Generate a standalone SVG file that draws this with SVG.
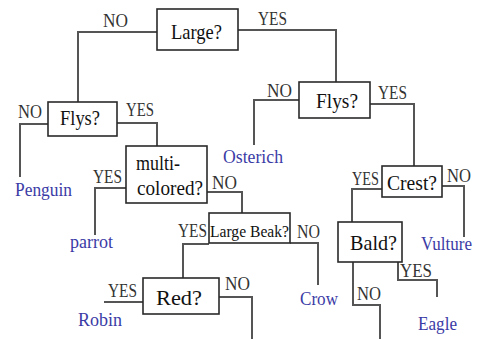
<svg xmlns="http://www.w3.org/2000/svg" width="477" height="339" viewBox="0 0 477 339">
<style>
text{font-family:"Liberation Serif","Times New Roman",Tinos,"DejaVu Serif",serif}
.box rect{fill:#fff;stroke:#2a2a2a;stroke-width:1.6}
.q{font-size:22px;fill:#111}
.qs{font-size:17px;fill:#111}
.lbl{font-size:19px;fill:#333}
.leaf{font-size:19px;fill:#3b3ba6}
#connectors path{fill:none;stroke:#555;stroke-width:2}
</style>
<rect width="477" height="339" fill="#fff"/>
<g id="connectors">
<path d="M157,32 H78 V102"/>
<path d="M238,30 H336 V82"/>
<path d="M48,124 H20 V177"/>
<path d="M117,123 H157 V146"/>
<path d="M126,188 H95 V235"/>
<path d="M207,192 H242 V213"/>
<path d="M209,244 H183 V278"/>
<path d="M290,243 H318 V285"/>
<path d="M143,302 H104"/>
<path d="M219,297 H252 V339"/>
<path d="M299,100 H254 V145"/>
<path d="M370,104 H414 V166"/>
<path d="M382,189 H352 V222"/>
<path d="M442,186 H464 V237"/>
<path d="M398,262 V280 H437 V297"/>
<path d="M353,262 V305 H380 V339"/>
</g>
<g id="labels">
<text class="lbl" x="103" y="27" textLength="25" lengthAdjust="spacingAndGlyphs">NO</text>
<text class="lbl" x="258" y="25" textLength="29" lengthAdjust="spacingAndGlyphs">YES</text>
<text class="lbl" x="18" y="118" textLength="24" lengthAdjust="spacingAndGlyphs">NO</text>
<text class="lbl" x="126" y="116" textLength="28" lengthAdjust="spacingAndGlyphs">YES</text>
<text class="lbl" x="93" y="183" textLength="29" lengthAdjust="spacingAndGlyphs">YES</text>
<text class="lbl" x="212" y="189" textLength="25" lengthAdjust="spacingAndGlyphs">NO</text>
<text class="lbl" x="178" y="237" textLength="29" lengthAdjust="spacingAndGlyphs">YES</text>
<text class="lbl" x="297" y="238" textLength="23" lengthAdjust="spacingAndGlyphs">NO</text>
<text class="lbl" x="108" y="297" textLength="29" lengthAdjust="spacingAndGlyphs">YES</text>
<text class="lbl" x="225" y="290" textLength="25" lengthAdjust="spacingAndGlyphs">NO</text>
<text class="lbl" x="267" y="97" textLength="25" lengthAdjust="spacingAndGlyphs">NO</text>
<text class="lbl" x="378" y="99" textLength="29" lengthAdjust="spacingAndGlyphs">YES</text>
<text class="lbl" x="352" y="185" textLength="27" lengthAdjust="spacingAndGlyphs">YES</text>
<text class="lbl" x="447" y="182" textLength="24" lengthAdjust="spacingAndGlyphs">NO</text>
<text class="lbl" x="400" y="277" textLength="32" lengthAdjust="spacingAndGlyphs">YES</text>
<text class="lbl" x="357" y="300" textLength="24" lengthAdjust="spacingAndGlyphs">NO</text>
</g>
<g id="large" class="box"><rect x="157" y="9" width="81" height="41"/><text class="q" x="171" y="39" textLength="51" lengthAdjust="spacingAndGlyphs">Large?</text></g>
<g id="flys1" class="box"><rect x="48" y="102" width="69" height="34"/><text class="q" x="60" y="125" textLength="40" lengthAdjust="spacingAndGlyphs">Flys?</text></g>
<g id="multicolored" class="box"><rect x="126" y="146" width="81" height="57"/><text class="q" x="136" y="170" textLength="44" lengthAdjust="spacingAndGlyphs">multi-</text><text class="q" x="137" y="195" textLength="66" lengthAdjust="spacingAndGlyphs">colored?</text></g>
<g id="largebeak" class="box"><rect x="209" y="213" width="81" height="30"/><text class="qs" x="210" y="237" textLength="79" lengthAdjust="spacingAndGlyphs">Large Beak?</text></g>
<g id="red" class="box"><rect x="143" y="278" width="76" height="36"/><text class="q" x="156" y="305" textLength="46" lengthAdjust="spacingAndGlyphs">Red?</text></g>
<g id="flys2" class="box"><rect x="299" y="82" width="71" height="36"/><text class="q" x="316" y="108" textLength="42" lengthAdjust="spacingAndGlyphs">Flys?</text></g>
<g id="crest" class="box"><rect x="382" y="166" width="60" height="31"/><text class="q" x="387" y="190" textLength="50" lengthAdjust="spacingAndGlyphs">Crest?</text></g>
<g id="bald" class="box"><rect x="338" y="222" width="64" height="40"/><text class="q" x="350" y="250" textLength="47" lengthAdjust="spacingAndGlyphs">Bald?</text></g>
<g id="penguin"><text class="leaf" x="15" y="196" textLength="57" lengthAdjust="spacingAndGlyphs">Penguin</text></g>
<g id="parrot"><text class="leaf" x="70" y="248" textLength="43" lengthAdjust="spacingAndGlyphs">parrot</text></g>
<g id="robin"><text class="leaf" x="78" y="326" textLength="44" lengthAdjust="spacingAndGlyphs">Robin</text></g>
<g id="crow"><text class="leaf" x="300" y="305" textLength="38" lengthAdjust="spacingAndGlyphs">Crow</text></g>
<g id="osterich"><text class="leaf" x="223" y="163" textLength="60" lengthAdjust="spacingAndGlyphs">Osterich</text></g>
<g id="vulture"><text class="leaf" x="421" y="250" style="font-size:18px" textLength="51" lengthAdjust="spacingAndGlyphs">Vulture</text></g>
<g id="eagle"><text class="leaf" x="418" y="330" textLength="39" lengthAdjust="spacingAndGlyphs">Eagle</text></g>
</svg>
